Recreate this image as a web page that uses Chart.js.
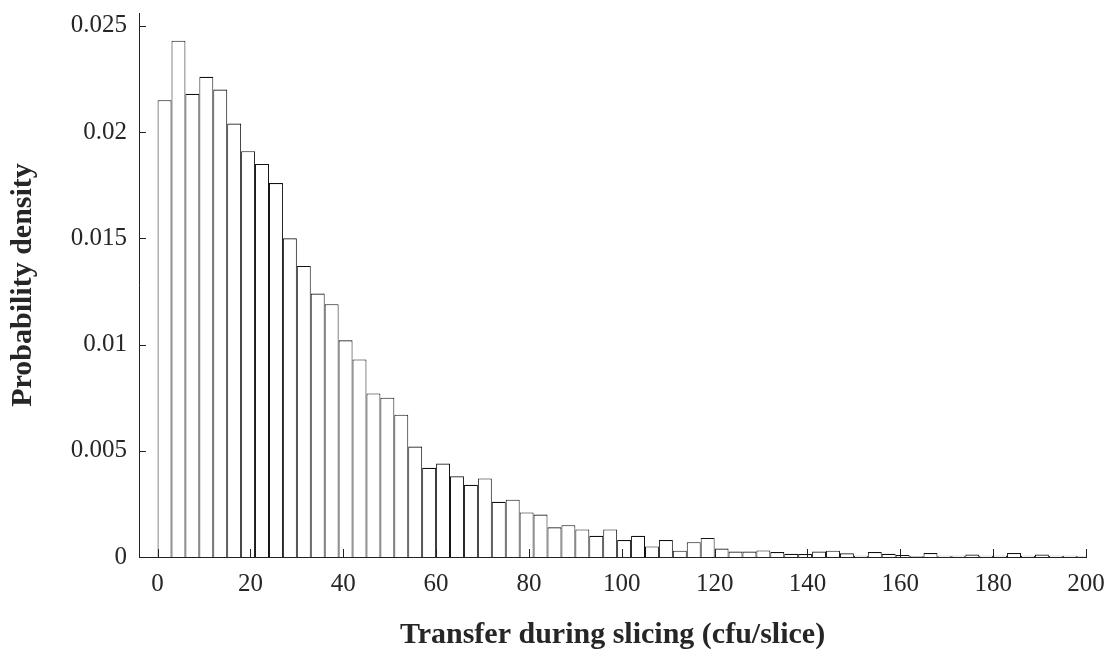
<!DOCTYPE html>
<html>
<head>
<meta charset="utf-8">
<script src="https://cdn.jsdelivr.net/npm/chart.js@4"></script>
<style>
  html, body { margin: 0; padding: 0; background: #fff; }
  #wrap { width: 1111px; height: 656px; position: relative; }
</style>
</head>
<body>
<div id="wrap"><canvas id="histChart"></canvas></div>
<script>
// ----------------- Histogram data (bin width 3, starting at 0) -----------------
const binStart = 0;
const binWidth = 3;
const density = [
  0.0215, 0.0243, 0.0218, 0.0226, 0.0220, 0.0204, 0.0191, 0.0185, 0.0176, 0.0150,
  0.0137, 0.0124, 0.0119, 0.0102, 0.0093, 0.0077, 0.0075, 0.0067, 0.0052, 0.0042,
  0.0044, 0.0038, 0.0034, 0.0037, 0.0026, 0.0027, 0.0021, 0.0020, 0.0014, 0.0015,
  0.0013, 0.0010, 0.0013, 0.0008, 0.0010, 0.0005, 0.0008, 0.0003, 0.0007, 0.0009,
  0.0004, 0.00026, 0.00026, 0.00031, 0.00023, 0.00015, 0.00014, 0.00026, 0.0003, 0.00018,
  0.00006, 0.00023, 0.00015, 0.0001, 0.00005, 0.00019, 0.00006, 0.00006, 0.00012, 0.00006,
  0.00006, 0.00019, 0.00006, 0.00012, 0.00006, 0.00006, 0.00004
];
const xTicks = [0, 20, 40, 60, 80, 100, 120, 140, 160, 180, 200];
const yTicks = [0, 0.005, 0.01, 0.015, 0.02, 0.025];
const yTickLabels = ['0', '0.005', '0.01', '0.015', '0.02', '0.025'];

const points = density.map((d, i) => ({ x: binStart + binWidth * (i + 0.5), y: d }));

// inward tick marks, MATLAB style
const innerTicks = {
  id: 'innerTicks',
  afterDatasetsDraw(chart) {
    const { ctx, chartArea, scales } = chart;
    ctx.save();
    ctx.strokeStyle = '#222';
    ctx.lineWidth = 1;
    ctx.beginPath();
    xTicks.forEach(v => {
      const px = Math.round(scales.x.getPixelForValue(v)) + 0.5;
      ctx.moveTo(px, chartArea.bottom);
      ctx.lineTo(px, chartArea.bottom - 8);
    });
    yTicks.forEach(v => {
      const py = Math.round(scales.y.getPixelForValue(v)) + 0.5;
      ctx.moveTo(chartArea.left, py);
      ctx.lineTo(chartArea.left + 7, py);
    });
    ctx.stroke();
    ctx.restore();
  }
};

const serif = "'Liberation Serif', 'Times New Roman', serif";

new Chart(document.getElementById('histChart').getContext('2d'), {
  type: 'bar',
  data: {
    datasets: [{
      data: points,
      backgroundColor: '#ffffff',
      borderColor: '#111111',
      borderWidth: { top: 1.2, left: 1, right: 1, bottom: 0 },
      borderSkipped: 'start',
      barPercentage: 1,
      categoryPercentage: 1,
      inflateAmount: 0
    }]
  },
  options: {
    responsive: true,
    maintainAspectRatio: false,
    animation: false,
    layout: { padding: { left: 0, top: 13, right: 25, bottom: 0 } },
    plugins: {
      legend: { display: false },
      tooltip: { enabled: false }
    },
    scales: {
      x: {
        type: 'linear',
        offset: false,
        min: -4,
        max: 200,
        z: 1,
        grid: { display: false, drawTicks: false, offset: false },
        border: { display: true, color: '#222', width: 1 },
        afterBuildTicks: s => { s.ticks = xTicks.map(v => ({ value: v })); },
        afterFit: s => { s.height = 99; s.paddingLeft = 0; s.paddingRight = 0; },
        ticks: {
          padding: 12,
          maxRotation: 0,
          color: '#262626',
          font: { family: serif, size: 25 },
          callback: v => String(v)
        },
        title: {
          display: true,
          text: 'Transfer during slicing (cfu/slice)',
          color: '#262626',
          font: { family: serif, size: 30, weight: 'bold' },
          padding: { top: 0, bottom: 3 }
        }
      },
      y: {
        type: 'linear',
        min: 0,
        max: 0.0256,
        z: 1,
        grid: { display: false, drawTicks: false },
        border: { display: true, color: '#222', width: 1 },
        afterBuildTicks: s => { s.ticks = yTicks.map(v => ({ value: v })); },
        afterFit: s => { s.width = 139; s.paddingTop = 0; s.paddingBottom = 0; },
        ticks: {
          padding: 12,
          color: '#262626',
          font: { family: serif, size: 25 },
          callback: v => yTickLabels[yTicks.indexOf(v)] ?? ''
        },
        title: {
          display: true,
          text: 'Probability density',
          color: '#262626',
          font: { family: serif, size: 30, weight: 'bold' },
          padding: { top: 5, bottom: 0 }
        }
      }
    }
  },
  plugins: [innerTicks]
});
</script>
</body>
</html>
